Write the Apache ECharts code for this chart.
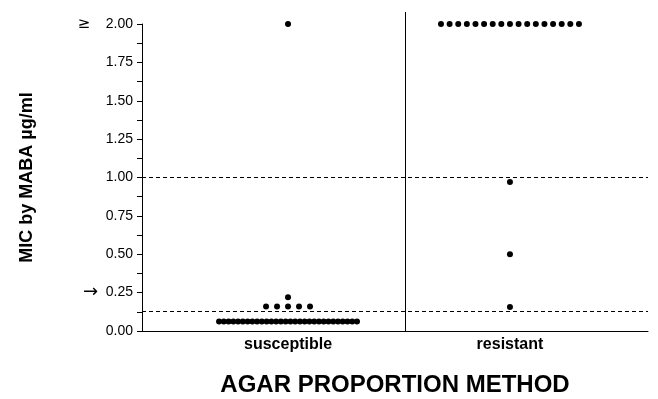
<!DOCTYPE html>
<html>
<head>
<meta charset="utf-8">
<script src="https://cdn.jsdelivr.net/npm/echarts@6/dist/echarts.min.js"></script>
<style>html,body{margin:0;padding:0;background:#fff;}#c{width:658px;height:399px;}</style>
</head>
<body>
<div id="c"></div>
<script>
const categories = ['susceptible', 'resistant'];
const yTicks = [0, 0.25, 0.5, 0.75, 1.0, 1.25, 1.5, 1.75, 2.0];
const breakpoints = [1.0, 0.125];
const susceptibleMIC = [2.0, 0.22,
  0.16, 0.16, 0.16, 0.16, 0.16,
  0.0625, 0.0625, 0.0625, 0.0625, 0.0625, 0.0625, 0.0625, 0.0625, 0.0625, 0.0625,
  0.0625, 0.0625, 0.0625, 0.0625, 0.0625, 0.0625, 0.0625, 0.0625, 0.0625, 0.0625,
  0.0625, 0.0625, 0.0625, 0.0625, 0.0625, 0.0625, 0.0625, 0.0625, 0.0625, 0.0625];
const resistantMIC = [2.0, 2.0, 2.0, 2.0, 2.0, 2.0, 2.0, 2.0, 2.0, 2.0,
  2.0, 2.0, 2.0, 2.0, 2.0, 2.0, 2.0,
  0.97, 0.5, 0.156];

const PX_PER_UNIT = 222;
function spread(values, catIndex) {
  const groups = {};
  values.forEach(v => { (groups[v] = groups[v] || []).push(v); });
  const pts = [];
  Object.keys(groups).forEach(k => {
    const g = groups[k];
    const n = g.length;
    const sp = n > 1 ? Math.min(11, 138 / (n - 1)) : 0;
    g.forEach((v, i) => {
      const off = (i - (n - 1) / 2) * sp / PX_PER_UNIT;
      pts.push([catIndex + off, v]);
    });
  });
  return pts;
}

const FONT = 'Liberation Sans, Arial, Helvetica, sans-serif';
const chart = echarts.init(document.getElementById('c'));
chart.setOption({
  animation: false,
  backgroundColor: '#fff',
  grid: { left: 142, right: 10, top: 24, bottom: 68, outerBoundsMode: 'none', containLabel: false },
  xAxis: {
    type: 'value',
    min: -0.658, max: 1.622,
    splitLine: { show: false },
    axisLine: { show: true, onZero: false, lineStyle: { color: '#000', width: 1 } },
    axisTick: { show: false },
    axisLabel: {
      customValues: [0, 1],
      formatter: v => categories[Math.round(v)],
      color: '#000', fontFamily: FONT, fontWeight: 'bold', fontSize: 16, margin: 6
    },
    name: 'AGAR PROPORTION METHOD',
    nameLocation: 'middle',
    nameGap: 42,
    nameTextStyle: { color: '#000', fontFamily: FONT, fontWeight: 'bold', fontSize: 24 }
  },
  yAxis: {
    type: 'value',
    min: 0, max: 2, interval: 0.25,
    splitLine: { show: false },
    axisLine: { show: true, onZero: false, lineStyle: { color: '#000', width: 1 } },
    axisTick: { show: true, length: 5, lineStyle: { color: '#000' } },
    minorTick: { show: true, splitNumber: 2, length: 5, lineStyle: { color: '#000' } },
    axisLabel: {
      color: '#000', fontFamily: FONT, fontSize: 14, margin: 9,
      formatter: v => {
        const s = v.toFixed(2);
        if (v === 2) return '{s|≥}    ' + s;
        if (v === 0.25) return '{a|→}  ' + s;
        return s;
      },
      rich: {
        s: { fontSize: 15, color: '#000', fontFamily: 'DejaVu Sans' },
        a: { fontSize: 18, color: '#000', fontFamily: 'DejaVu Sans' }
      }
    },
    name: 'MIC by MABA µg/ml',
    nameLocation: 'middle',
    nameGap: 106,
    nameRotate: 90,
    nameTextStyle: { color: '#000', fontFamily: FONT, fontWeight: 'bold', fontSize: 18 }
  },
  series: [
    {
      type: 'scatter',
      symbol: 'circle',
      symbolSize: 6,
      itemStyle: { color: '#000', opacity: 1 },
      data: spread(susceptibleMIC, 0).concat(spread(resistantMIC, 1)),
      markLine: {
        silent: true,
        symbol: 'none',
        label: { show: false },
        lineStyle: { color: '#000', type: [4, 3], width: 1 },
        data: breakpoints.map(b => ({ yAxis: b }))
      }
    }
  ],
  graphic: [
    { type: 'line', shape: { x1: 405.5, y1: 12, x2: 405.5, y2: 331 }, style: { stroke: '#000', lineWidth: 1 } }
  ]
});
</script>
</body>
</html>
